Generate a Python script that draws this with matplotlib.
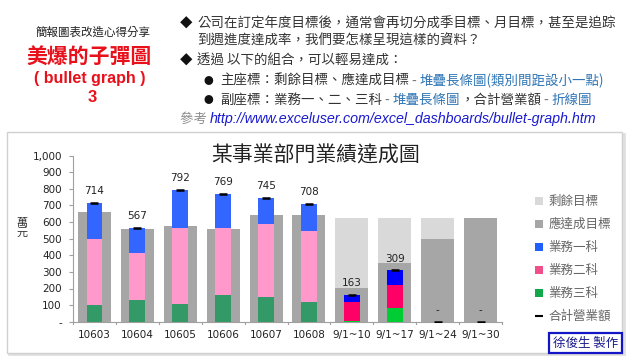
import matplotlib
matplotlib.use("Agg")
import matplotlib.pyplot as plt
from matplotlib.patches import Rectangle, Patch
from matplotlib.lines import Line2D

plt.rcParams['font.family'] = ['Noto Sans CJK TC', 'DejaVu Sans']

# ---- data -------------------------------------------------------------
categories = ['10603', '10604', '10605', '10606', '10607', '10608',
              '9/1~10', '9/1~17', '9/1~24', '9/1~30']
target_due = [663, 560, 576, 560, 643, 643, 205, 351, 498, 622]
target_remaining = [0, 0, 0, 0, 0, 0, 417, 271, 124, 0]
sales_dept1 = [216, 151, 230, 203, 155, 160, 47, 88, 0, 0]
sales_dept2 = [398, 286, 456, 407, 439, 432, 113, 141, 0, 0]
sales_dept3 = [100, 130, 106, 159, 151, 116, 3, 80, 0, 0]
sales_total = [714, 567, 792, 769, 745, 708, 163, 309, 0, 0]

series_names = ['剩餘目標', '應達成目標', '業務一科', '業務二科', '業務三科', '合計營業額']
y_ticks = [0, 100, 200, 300, 400, 500, 600, 700, 800, 900, 1000]
y_tick_labels = ['-', '100', '200', '300', '400', '500', '600', '700', '800', '900', '1,000']

# ---- colours ----------------------------------------------------------
n_month = 6
c_remaining = '#D9D9D9'
c_due = '#A6A6A6'
c1 = ['#3366FF'] * n_month + ['#0000FF'] * 4
c2 = ['#FF99CC'] * n_month + ['#FF0066'] * 4
c3 = ['#339966'] * n_month + ['#00CC33'] * 4
legend_colors = [c_remaining, c_due, '#1F5FFF', '#F0508A', '#11A84A']

W, H = 640, 360
fig = plt.figure(figsize=(W / 100, H / 100), dpi=100)
fig.patch.set_facecolor('white')

# canvas for free text and decorations, in pixel-like coordinates
bg = fig.add_axes([0, 0, 1, 1])
bg.set_xlim(0, W)
bg.set_ylim(H, 0)
bg.axis('off')

# chart frame
bg.add_patch(Rectangle((9, 134), 615, 220, fill=False, ec='#E0E0E0', lw=2.0, zorder=1))
bg.add_patch(Rectangle((7, 132), 615, 221, facecolor='white', ec='#D0D0D0', lw=1.0, zorder=1))

# ---- left heading -----------------------------------------------------
red = '#E8101A'
bg.text(93, 32, '簡報圖表改造心得分享', fontsize=8.3, color='#222222', ha='center', va='center')
bg.text(89, 57, '美爆的子彈圖', fontsize=15, color=red, weight='bold', ha='center', va='center')
bg.text(90, 79, '( bullet graph )', fontsize=11.5, color=red, weight='bold', ha='center', va='center',
        family=['Liberation Sans', 'DejaVu Sans'])
bg.text(92, 98, '3', fontsize=12, color=red, weight='bold', ha='center', va='center',
        family=['Liberation Sans', 'DejaVu Sans'])

# ---- right-hand notes (segments chained left to right) -----------------
dark = '#333333'
grey = '#777777'
teal = '#2E75B6'
fig.canvas.draw()
renderer = fig.canvas.get_renderer()


def chain(x, y, pieces, size=9.7):
    for txt, color, extra in pieces:
        kw = dict(fontsize=size, color=color, ha='left', va='baseline')
        kw.update(extra)
        t = bg.text(x, y, txt, **kw)
        bb = t.get_window_extent(renderer)
        x = bg.transData.inverted().transform((bb.x1, bb.y0))[0]


bg.text(186, 24, '◆', fontsize=9, color='#111111', ha='center', va='center')
chain(197, 28, [('公司在訂定年度目標後，通常會再切分成季目標、月目標，甚至是追踪', dark, {})])
chain(197, 45, [('到週進度達成率，我們要怎樣呈現這樣的資料？', dark, {})])
bg.text(186, 61, '◆', fontsize=9, color='#111111', ha='center', va='center')
chain(197, 65, [('透過 以下的組合，可以輕易達成：', dark, {})])
bg.text(208, 81, '●', fontsize=7, color='#111111', ha='center', va='center')
chain(220, 85, [('主座標：剩餘目標、應達成目標', dark, {}), (' - ', grey, {}),
                ('堆疊長條圖(類別間距設小一點)', teal, {})])
bg.text(208, 100, '●', fontsize=7, color='#111111', ha='center', va='center')
chain(220, 104, [('副座標：業務一、二、三科', dark, {}), (' - ', grey, {}),
                 ('堆疊長條圖', teal, {}), ('，合計營業額', dark, {}), (' - ', grey, {}),
                 ('折線圖', teal, {})])
chain(180, 123, [('參考 ', '#8C8C8C', {}),
                 ('http://www.exceluser.com/excel_dashboards/bullet-graph.htm', '#1A1AD0',
                  {'family': ['Liberation Sans', 'DejaVu Sans'], 'style': 'italic', 'fontsize': 10.3})])

# ---- chart ------------------------------------------------------------
ax = fig.add_axes([73 / W, 1 - 321.7 / H, (502 - 73) / W, 166 / H])
ax.set_facecolor('none')
x = list(range(len(categories)))

ax.bar(x, target_due, width=0.77, color=c_due, zorder=2)
ax.bar(x, target_remaining, width=0.77, bottom=target_due, color=c_remaining, zorder=2)

b2 = [a for a in sales_dept3]
b1 = [a + b for a, b in zip(sales_dept3, sales_dept2)]
ax.bar(x, sales_dept3, width=0.37, color=c3, zorder=3)
ax.bar(x, sales_dept2, width=0.37, bottom=b2, color=c2, zorder=3)
ax.bar(x, sales_dept1, width=0.37, bottom=b1, color=c1, zorder=3)

ax.plot(x, sales_total, linestyle='none', marker='_', markersize=6, mew=1.8,
        color='black', zorder=4)
for xi, v in zip(x, sales_total):
    ax.annotate(f'{v:,}' if v else '-', (xi, v), xytext=(0, 8.5), textcoords='offset points',
                ha='center', va='center', fontsize=7.5, color='#222222',
                family=['DejaVu Sans'])

ax.set_xlim(-0.5, len(categories) - 0.5)
ax.set_ylim(0, 1000)
ax.set_yticks(y_ticks)
ax.set_yticklabels(y_tick_labels, family=['DejaVu Sans'], fontsize=7.5, color='#222222')
ax.set_xticks(x)
ax.set_xticklabels(categories, family=['DejaVu Sans'], fontsize=7.5, color='#222222')
ax.tick_params(axis='x', length=0, pad=6)
ax.tick_params(axis='y', length=3, color='#A0A0A0', pad=5)
for xb in [i - 0.5 for i in range(len(categories) + 1)]:
    ax.plot([xb, xb], [0, -12], color='#A0A0A0', lw=0.8, clip_on=False, zorder=1)
for s in ['top', 'right']:
    ax.spines[s].set_visible(False)
for s in ['left', 'bottom']:
    ax.spines[s].set_color('#A0A0A0')
    ax.spines[s].set_linewidth(0.8)

bg.text(22, 228, '萬\n元', fontsize=8, color='#333333', ha='center', va='center', linespacing=1.0)
bg.text(316, 156, '某事業部門業績達成圖', fontsize=15, color='#222222', ha='center', va='center')

# ---- legend -----------------------------------------------------------
handles = [Patch(facecolor=c, edgecolor='none') for c in legend_colors]
handles.append(Line2D([], [], linestyle='none', marker='_', color='black', markersize=6, mew=1.5))
leg = fig.legend(handles, series_names, loc='upper left', bbox_to_anchor=(530 / W, 1 - 190 / H),
                 frameon=False, fontsize=9, handlelength=0.6, handleheight=0.6,
                 handletextpad=0.5, labelspacing=0.8, borderaxespad=0)
for t in leg.get_texts():
    t.set_color('#666666')

# ---- signature box ----------------------------------------------------
bg.add_patch(Rectangle((549, 333), 73, 20, facecolor='white', ec='#1515C8', lw=1.6, zorder=5))
bg.text(585.5, 343, '徐俊生 製作', fontsize=9, color='#1A1A8C', ha='center', va='center', zorder=6)

fig.savefig('out.png', dpi=100, facecolor='white')
